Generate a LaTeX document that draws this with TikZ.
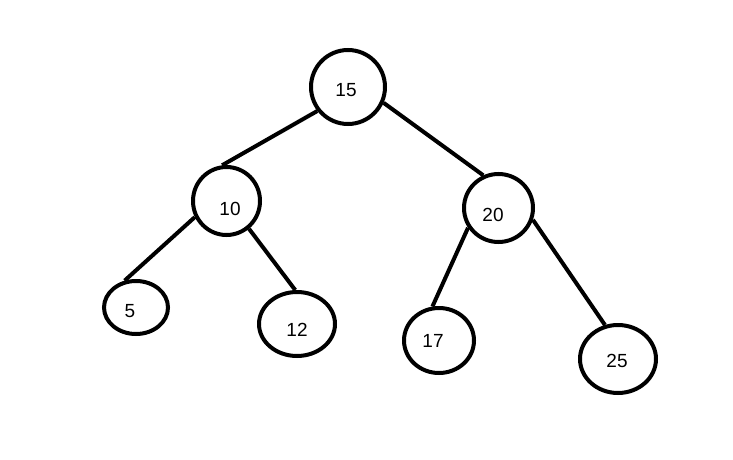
\documentclass[tikz,border=0pt]{standalone}
\usepackage{fontspec}
\setmainfont{Liberation Sans}
\usetikzlibrary{shapes.geometric}
\tikzset{
  tnode/.style={draw, ellipse, line width=4pt, inner sep=0pt},
  tlab/.style={inner sep=0pt, font=\fontsize{19pt}{22pt}\selectfont},
  edge/.style={line width=4pt}
}
\begin{document}
\begin{tikzpicture}[x=1pt,y=-1pt]
\useasboundingbox[fill=white] (0,0) rectangle (733,460);
\node[tnode, minimum width=74pt, minimum height=74pt] (n15) at (348,87) {};
\node[tnode, minimum width=67pt, minimum height=68pt] (n10) at (226.5,201) {};
\node[tnode, minimum width=69pt, minimum height=68pt] (n20) at (498.5,208) {};
\node[tnode, minimum width=64pt, minimum height=53pt] (n5) at (136,307.5) {};
\node[tnode, minimum width=76pt, minimum height=64pt] (n12) at (297,324) {};
\node[tnode, minimum width=70pt, minimum height=65pt] (n17) at (439,340.5) {};
\node[tnode, minimum width=76pt, minimum height=68pt] (n25) at (618,359) {};
\node[tlab] (t15) at (346,90) {15};
\node[tlab] (t10) at (230,209) {10};
\node[tlab] (t20) at (493,215) {20};
\node[tlab] (t5) at (130,311.5) {5};
\node[tlab] (t12) at (297,330) {12};
\node[tlab] (t17) at (433,340.5) {17};
\node[tlab] (t25) at (617,360.5) {25};
\draw[edge] (n15.218.7) -- (n10.97.5);
\draw[edge] (n15.336.6) -- (n20.115);
\draw[edge] (n10.207) -- (n5.113);
\draw[edge] (n10.309.6) -- (n12.93);
\draw[edge] (n20.213) -- (n17.101);
\draw[edge] (n20.341) -- (n25.111);
\end{tikzpicture}
\end{document}
